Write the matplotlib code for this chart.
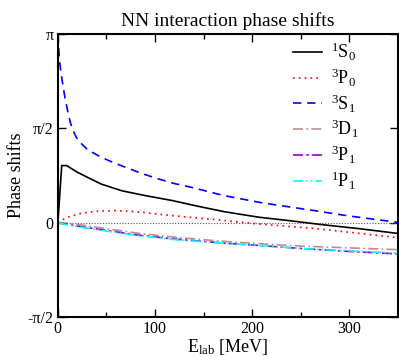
import numpy as np
import matplotlib
matplotlib.use("Agg")
import matplotlib.pyplot as plt

plt.rcParams['font.family'] = ['Liberation Serif', 'DejaVu Serif']
plt.rcParams['mathtext.fontset'] = 'custom'
plt.rcParams['mathtext.rm'] = 'Liberation Serif'
plt.rcParams['mathtext.it'] = 'Liberation Serif:italic'

# ---- data (phase shifts in radians) ----
E_1S0 = [0, 4, 9, 20, 31, 45, 66, 90, 117, 145, 172, 207, 240, 270, 310, 350]
d_1S0 = [0, 0.95, 0.95, 0.84, 0.75, 0.64, 0.53, 0.45, 0.37, 0.27, 0.18, 0.09, 0.03, -0.03, -0.10, -0.18]

E_3P0 = [0, 5, 10, 25, 40, 58, 75, 88, 110, 135, 169, 205, 260, 300, 350]
d_3P0 = [0, 0.05, 0.09, 0.16, 0.19, 0.20, 0.19, 0.17, 0.13, 0.09, 0.04, -0.02, -0.09, -0.16, -0.25]

E_3S1 = [0, 1, 2, 4.4, 7.2, 10.6, 13, 15.7, 19, 22.6, 27, 31, 40, 50, 60, 70, 86, 103, 120, 137, 154, 171, 210, 260, 300, 350]
d_3S1 = [np.pi, 2.87, 2.65, 2.37, 2.09, 1.82, 1.66, 1.53, 1.42, 1.34, 1.27, 1.21, 1.13, 1.05, 0.98, 0.92, 0.82, 0.73, 0.65, 0.59, 0.52, 0.45, 0.33, 0.21, 0.11, 0.005]

E_P = [0, 10, 25, 50, 84, 125, 170, 207, 250, 300, 350]
d_3D1 = [0, -0.01, -0.04, -0.10, -0.18, -0.25, -0.31, -0.35, -0.39, -0.42, -0.45]
d_3P1 = [0, -0.03, -0.07, -0.13, -0.21, -0.28, -0.34, -0.38, -0.43, -0.48, -0.52]
d_1P1 = [0, -0.04, -0.08, -0.14, -0.22, -0.29, -0.34, -0.38, -0.43, -0.47, -0.51]

labels = [r'$^{1}\mathrm{S}_{0}$', r'$^{3}\mathrm{P}_{0}$', r'$^{3}\mathrm{S}_{1}$',
          r'$^{3}\mathrm{D}_{1}$', r'$^{3}\mathrm{P}_{1}$', r'$^{1}\mathrm{P}_{1}$']
yticks = [-np.pi / 2, 0, np.pi / 2, np.pi]
yticklabels = ['-π/2', '0', 'π/2', 'π']
xticks = [0, 100, 200, 300]

fig = plt.figure(figsize=(3.99, 3.57), dpi=100)
ax = fig.add_axes([0.145, 0.112, 0.8525, 0.793])

ax.axhline(0, color='#555555', ls=(0, (1, 1.5)), lw=0.8)
ax.plot(E_1S0, d_1S0, color='black', ls='-', lw=1.2, label=labels[0])
ax.plot(E_3P0, d_3P0, color='red', ls=(0, (1, 2.5)), lw=1.2, label=labels[1])
ax.plot(E_3S1, d_3S1, color='blue', ls=(0, (5, 3.5)), lw=1.2, label=labels[2])
ax.plot(E_P, d_3D1, color='#bc8f8f', ls=(0, (6, 2, 1, 2)), lw=1.2, label=labels[3])
ax.plot(E_P, d_3P1, color='#9400d3', ls=(0, (6, 2, 1.5, 2)), lw=1.2, label=labels[4])
ax.plot(E_P, d_1P1, color='cyan', ls=(0, (6, 2, 1, 1.5, 1, 2)), lw=1.2, label=labels[5])

ax.set_xlim(0, 350)
ax.set_ylim(-np.pi / 2, np.pi)
ax.set_xticks(xticks)
ax.set_xticks([50, 150, 250, 350], minor=True)
ax.set_yticks(yticks)
ax.set_yticklabels(yticklabels)
ax.tick_params(which='major', direction='in', length=6, width=1, labelsize=11.5,
               top=True, right=True, pad=3)
ax.tick_params(which='minor', direction='in', length=3.5, width=1, top=True, right=True)
for s in ax.spines.values():
    s.set_linewidth(1.5)

ax.set_title('NN interaction phase shifts', fontsize=14, pad=6)
ax.set_xlabel(r'E$_{\mathrm{lab}}$ [MeV]', fontsize=13, labelpad=0)
ax.set_ylabel('Phase shifts', fontsize=13, labelpad=2)

ax.legend(loc='upper right', bbox_to_anchor=(0.885, 0.975), frameon=False, fontsize=13,
          handlelength=1.6, labelspacing=0.2, handletextpad=0.5,
          borderaxespad=0, borderpad=0)

fig.savefig('out.png', dpi=100)
